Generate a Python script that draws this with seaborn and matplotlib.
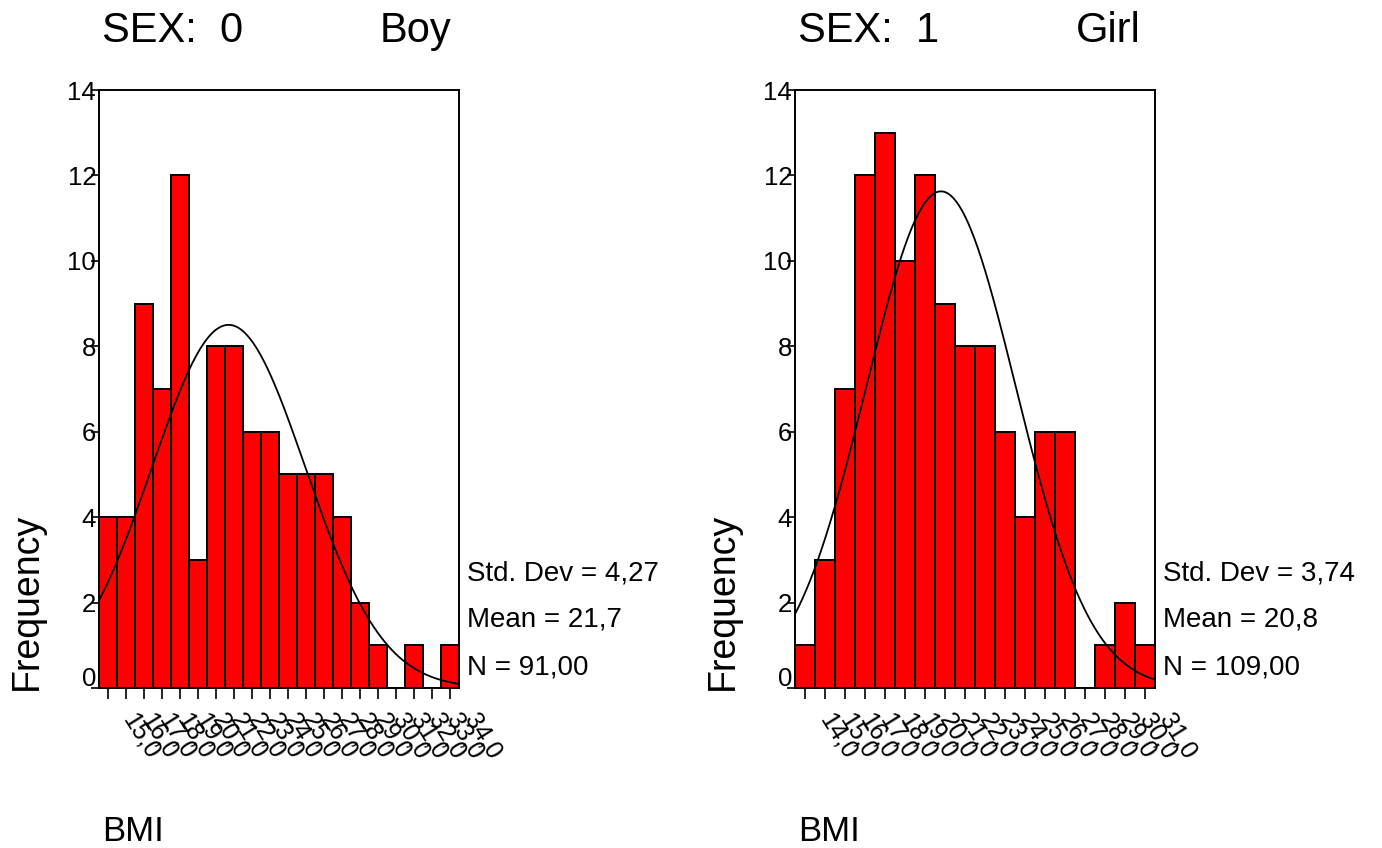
import numpy as np
import pandas as pd
import matplotlib
matplotlib.use("Agg")
import matplotlib.pyplot as plt
import matplotlib.transforms as mtransforms
import seaborn as sns

# BMI histogram bins (bin midpoints) and counts
boy_bmi = [15, 16, 17, 18, 19, 20, 21, 22, 23, 24, 25, 26, 27, 28, 29, 30, 31, 32, 33, 34]
boy_counts = [4, 4, 9, 7, 12, 3, 8, 8, 6, 6, 5, 5, 5, 4, 2, 1, 0, 1, 0, 1]
boy_mean, boy_sd, boy_n = 21.7, 4.27, 91

girl_bmi = [14, 15, 16, 17, 18, 19, 20, 21, 22, 23, 24, 25, 26, 27, 28, 29, 30, 31]
girl_counts = [1, 3, 7, 12, 13, 10, 12, 9, 8, 8, 6, 4, 6, 6, 0, 1, 2, 1]
girl_mean, girl_sd, girl_n = 20.8, 3.74, 109

y_ticks = [0, 2, 4, 6, 8, 10, 12, 14]

panels = [
    ("0", "Boy", boy_bmi, boy_counts, boy_mean, boy_sd, boy_n, "4,27", "21,7", "91,00"),
    ("1", "Girl", girl_bmi, girl_counts, girl_mean, girl_sd, girl_n, "3,74", "20,8", "109,00"),
]

sns.set_style("white")
plt.rcParams['font.family'] = ['Liberation Sans', 'DejaVu Sans']
plt.rcParams['text.color'] = 'black'
plt.rcParams['xtick.color'] = 'black'
plt.rcParams['ytick.color'] = 'black'
plt.rcParams['axes.labelcolor'] = 'black'

W, H = 1382, 848
fig = plt.figure(figsize=(W / 100, H / 100), dpi=100)

lefts = [99, 795]
for (code, name, bmi, counts, mean, sd, n, sd_s, mean_s, n_s), left in zip(panels, lefts):
    ax = fig.add_axes([left / W, 1 - 688 / H, 360 / W, 598 / H])
    df = pd.DataFrame({"BMI": bmi, "count": counts})
    edges = [v - 0.5 for v in bmi] + [bmi[-1] + 0.5]
    sns.histplot(data=df, x="BMI", weights="count", bins=edges, ax=ax,
                 color="#ff0000", edgecolor="black", linewidth=1.4, alpha=1)

    # fitted normal curve
    xs = np.linspace(edges[0], edges[-1], 300)
    ys = n * 1.0 / (sd * np.sqrt(2 * np.pi)) * np.exp(-0.5 * ((xs - mean) / sd) ** 2)
    sns.lineplot(x=xs, y=ys, ax=ax, color="black", linewidth=1.3)

    ax.set_xlim(edges[0], edges[-1])
    ax.set_ylim(0, 14)
    ax.set_yticks(y_ticks)
    ax.set_yticklabels([str(v) for v in y_ticks], fontsize=18.5)
    ax.set_xticks(bmi)
    ax.set_xticklabels([f"{v},0" for v in bmi], rotation=-58, ha="left", va="center",
                       rotation_mode="anchor", fontsize=18)
    ax.tick_params(axis="y", length=6, width=1.2, pad=-4, direction="out", left=True)
    ax.tick_params(axis="x", length=8, width=1.2, pad=12, direction="out", bottom=True)
    for s in ax.spines.values():
        s.set_visible(True)
        s.set_color("black")
        s.set_linewidth(1.4)
    ax.set_xlabel("")
    ax.set_ylabel("")

    # raise the "0" label like the original
    lbl = ax.get_yticklabels()[0]
    lbl.set_transform(lbl.get_transform() + mtransforms.ScaledTranslation(0, 0.11, fig.dpi_scale_trans))
    # x labels sit a little right of their ticks
    for t in ax.get_xticklabels():
        t.set_transform(t.get_transform() + mtransforms.ScaledTranslation(0.2, 0, fig.dpi_scale_trans))

    x0 = (left + 3) / W
    fig.text(x0, 1 - 42 / H, f"SEX:  {code}", fontsize=30, ha="left", va="baseline")
    fig.text((left + 281) / W, 1 - 42 / H, name, fontsize=30, ha="left", va="baseline")
    fig.text((left - 72) / W, 1 - 690 / H, "Frequency", fontsize=27, rotation=90,
             ha="center", va="bottom")
    fig.text(x0, 1 - 841 / H, "BMI", fontsize=25, ha="left", va="baseline")

    sx = (left + 368) / W
    fig.text(sx, 1 - 580 / H, f"Std. Dev = {sd_s}", fontsize=20, ha="left", va="baseline")
    fig.text(sx, 1 - 627 / H, f"Mean = {mean_s}", fontsize=20, ha="left", va="baseline")
    fig.text(sx, 1 - 675 / H, f"N = {n_s}", fontsize=20, ha="left", va="baseline")

fig.savefig("out.png", dpi=100, facecolor="white")
